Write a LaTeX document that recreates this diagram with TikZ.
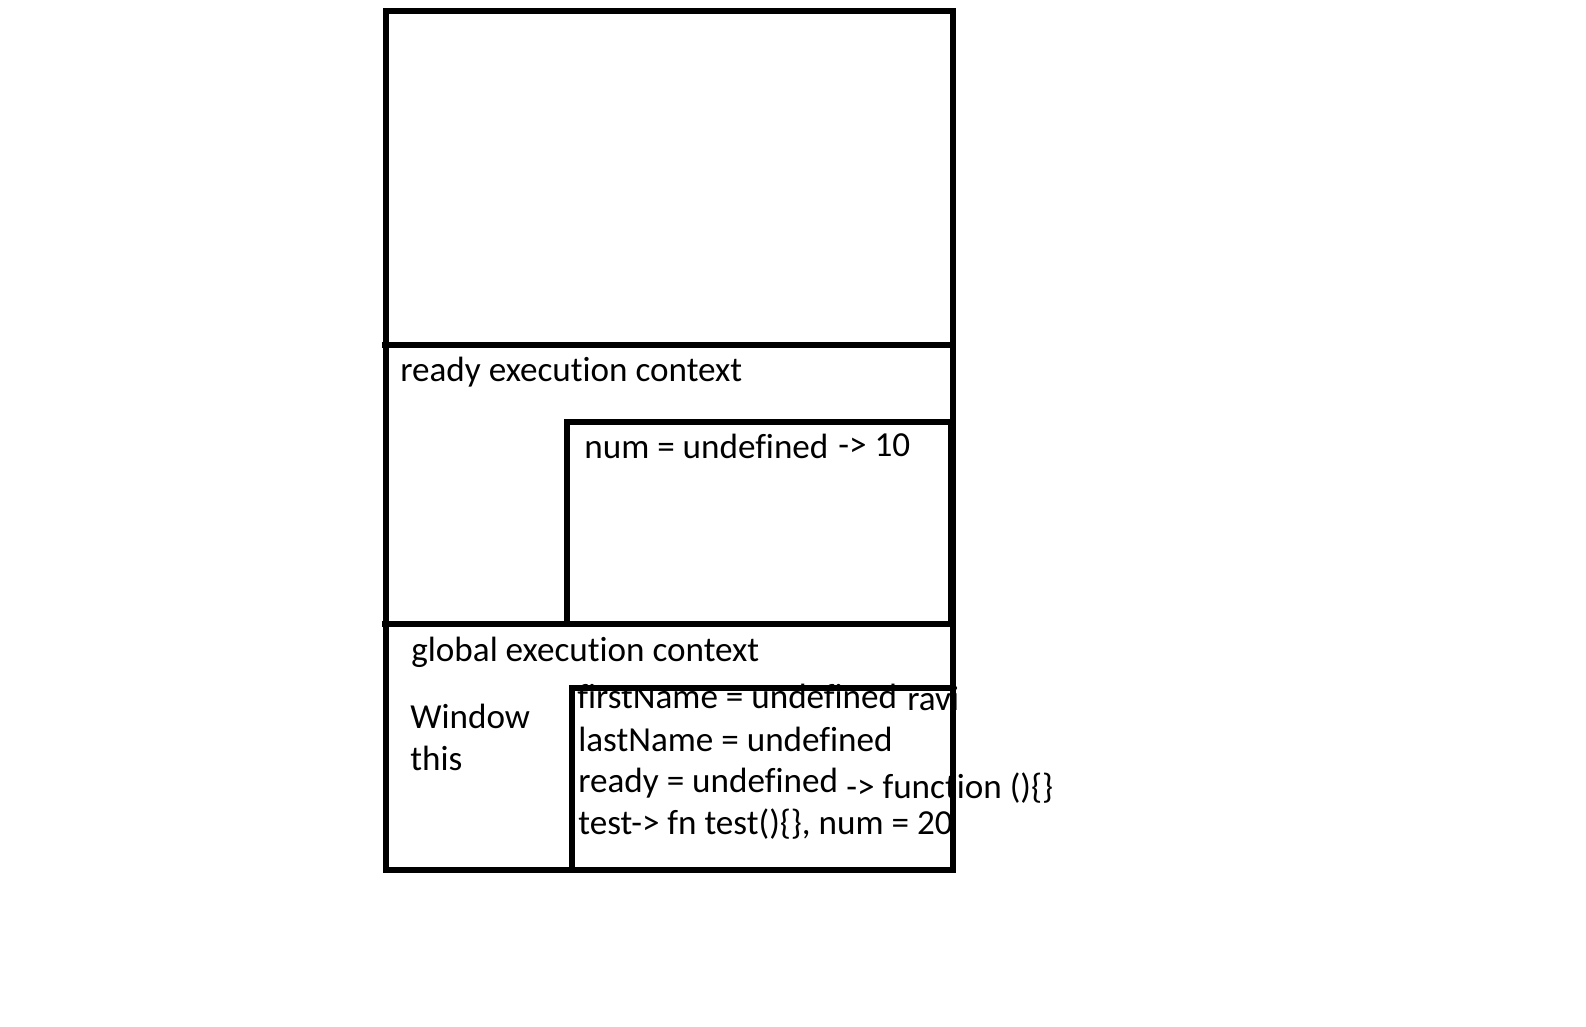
\documentclass[tikz,border=0pt]{standalone}
\usepackage{fontspec}
\setmainfont[Ligatures=CommonOff]{Carlito}
\usetikzlibrary{positioning}

\begin{document}
\begin{tikzpicture}[
		x=0.02cm, y=-0.02cm,
		every node/.style={font=\fontsize{20}{24}\selectfont, inner sep=0pt, anchor=base west},
		frame/.style={draw, line width=3pt},
		rule/.style={line width=3pt}
		]
		
		\useasboundingbox (0,0) rectangle (1586,1027);
		
		% Texts
		\node (readytitle) at (400,381) {ready execution context};
		\node (num) at (584,458) {num = undefined};
		\node (numval) at (838,456) {-> 10};
		\node (globaltitle) at (411,661) {global execution context};
		\node (window) at (410,728) {Window};
		\node (this) at (410,770) {this};
		\node (first) at (577,708) {firstName = undefined};
		\node (ravi) at (907,710) {ravi};
		\node (last) at (578,751) {lastName = undefined};
		\node (ready) at (578,792) {ready = undefined};
		\node (readyval) at (846,798) {-> function ()\{\}};
		\node (test) at (578,834) {test-> fn test()\{\}, num = 20};
		
		% Stack frames
		\draw[frame] (386,11) rectangle (953,870);
		\draw[rule] (382,345) -- (955,345);
		\draw[rule] (382,624) -- (955,624);
		\draw[frame] (567,624) |- (951,422) -- (951,624);
		\draw[frame] (572,688) rectangle (953,870);
		
	\end{tikzpicture}
\end{document}
